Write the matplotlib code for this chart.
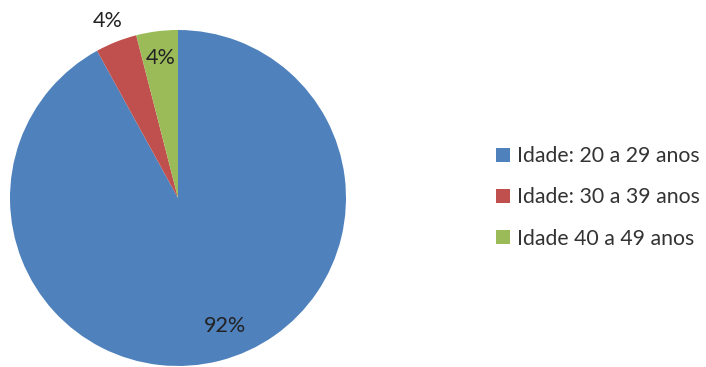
import matplotlib.pyplot as plt
import numpy as np

plt.rcParams['font.family'] = ['Lato', 'DejaVu Sans']

faixas = ['Idade: 20 a 29 anos', 'Idade: 30 a 39 anos', 'Idade 40 a 49 anos']
valores = [92, 4, 4]
cores = ['#4F81BD', '#C0504D', '#9BBB59']
rotulos = ['92%', '4%', '4%']

fig = plt.figure(figsize=(7.06, 3.67), dpi=100)
ax = fig.add_axes([10/706, 1/367, 336/706, 336/367])

fatias, _ = ax.pie(valores, colors=cores, startangle=90, counterclock=False,
                   radius=1, wedgeprops=dict(linewidth=0))
ax.set_xlim(-1, 1)
ax.set_ylim(-1, 1)
ax.set_aspect('equal')

# distancia do rotulo ao centro (o vermelho fica de fora) e pequeno desvio de angulo
dist = [0.81, 1.13, 0.84]
desvio = [6, 0, 0]
for w, txt, d, dv in zip(fatias, rotulos, dist, desvio):
    ang = np.deg2rad((w.theta1 + w.theta2) / 2 + dv)
    ax.text(d*np.cos(ang), d*np.sin(ang), txt, ha='center', va='center',
            fontsize=15.5, color='#222222', clip_on=False)

fig.legend(fatias, faixas, loc='center left', bbox_to_anchor=(496/706, 0.462),
           frameon=False, fontsize=15.3, handlelength=0.67, handleheight=0.67,
           handletextpad=0.3, labelspacing=1.0, borderpad=0, borderaxespad=0,
           labelcolor='#333333')

fig.savefig('out.png', dpi=100)
